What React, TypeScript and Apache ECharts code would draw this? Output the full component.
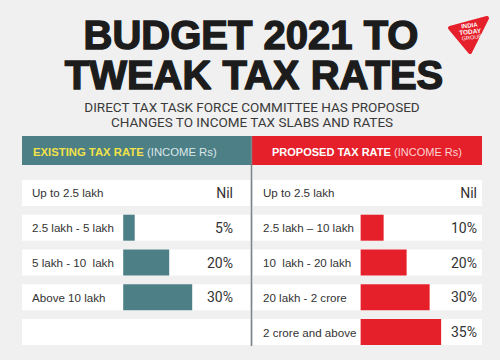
import React, { useEffect, useRef } from "react";
import * as echarts from "echarts";

const existingCats = ["Up to 2.5 lakh", "2.5 lakh - 5 lakh", "5 lakh - 10  lakh", "Above 10 lakh", ""];
const existingRates: (number | null)[] = [0, 5, 20, 30, null];
const proposedCats = ["Up to 2.5 lakh", "2.5 lakh – 10 lakh", "10  lakh - 20 lakh", "20 lakh - 2 crore", "2 crore and above"];
const proposedRates: (number | null)[] = [0, 10, 20, 30, 35];

const TEAL = "#4d7f87";
const RED = "#e6202a";
const BG = "#f0f0f0";
const TXT = "#333333";
const SANS = "'Liberation Sans', Arial, sans-serif";

const rateLabel = (v: number | null) => (v == null ? "" : v === 0 ? "Nil" : v + "%");

export default function App() {
  const ref = useRef<HTMLDivElement>(null);
  useEffect(() => {
    const chart = echarts.init(ref.current!, null, { renderer: "svg" });
    const gridTop = 175.5;
    const gridH = 174;
    const catAxis = (gridIndex: number, data: string[]) => ({
      type: "category",
      gridIndex,
      data,
      inverse: true,
      z: 10,
      axisLine: { show: false },
      axisTick: { show: false },
      splitLine: { show: false },
      axisLabel: { inside: true, margin: 10, color: TXT, fontFamily: SANS, fontSize: 11.6 },
    });
    const valLabelAxis = (gridIndex: number, data: (number | null)[], margin: number) => ({
      type: "category",
      gridIndex,
      position: "right",
      data: data.map(rateLabel),
      inverse: true,
      z: 10,
      axisLine: { show: false },
      axisTick: { show: false },
      splitLine: { show: false },
      axisLabel: { inside: true, margin, color: TXT, fontFamily: "Roboto, sans-serif", fontSize: 14 },
    });
    const valAxis = (gridIndex: number, min: number, max: number) => ({
      type: "value",
      gridIndex,
      min,
      max,
      show: false,
      splitLine: { show: false },
    });
    const center = { align: "center", verticalAlign: "middle", textAlign: "center", textVerticalAlign: "middle" };
    chart.setOption({
      animation: false,
      backgroundColor: BG,
      grid: [
        { left: 22, width: 228, top: gridTop, height: gridH },
        { left: 253, width: 229, top: gridTop, height: gridH },
      ],
      xAxis: [valAxis(0, -44, 55.13), valAxis(1, -46.8, 52.77)],
      yAxis: [
        catAxis(0, existingCats),
        valLabelAxis(0, existingRates, 17),
        catAxis(1, proposedCats),
        valLabelAxis(1, proposedRates, 5),
      ],
      series: [
        {
          type: "bar",
          xAxisIndex: 0,
          yAxisIndex: 0,
          data: existingRates,
          barWidth: 26,
          showBackground: true,
          backgroundStyle: { color: "#ffffff" },
          itemStyle: { color: TEAL },
          silent: true,
        },
        {
          type: "bar",
          xAxisIndex: 1,
          yAxisIndex: 2,
          data: proposedRates,
          barWidth: 26,
          showBackground: true,
          backgroundStyle: { color: "#ffffff" },
          itemStyle: { color: RED },
          silent: true,
        },
      ],
      graphic: [
        {
          type: "text",
          x: 251,
          y: 35,
          style: {
            text: "BUDGET 2021 TO",
            fill: "#1c1c1c",
            stroke: "#1c1c1c",
            lineWidth: 1.4,
            fontFamily: SANS,
            fontWeight: "bold",
            fontSize: 40,
            ...center,
          },
        },
        {
          type: "text",
          x: 254,
          y: 75,
          style: {
            text: "TWEAK TAX RATES",
            fill: "#1c1c1c",
            stroke: "#1c1c1c",
            lineWidth: 1.4,
            fontFamily: SANS,
            fontWeight: "bold",
            fontSize: 40,
            ...center,
          },
        },
        {
          type: "text",
          x: 252,
          y: 106.5,
          style: {
            text: "DIRECT TAX TASK FORCE COMMITTEE HAS PROPOSED",
            fill: "#3a3a3a",
            fontFamily: "Roboto, sans-serif",
            fontSize: 13.5,
            ...center,
          },
        },
        {
          type: "text",
          x: 252,
          y: 121.5,
          style: {
            text: "CHANGES TO INCOME TAX SLABS AND RATES",
            fill: "#3a3a3a",
            fontFamily: "Roboto, sans-serif",
            fontSize: 13.5,
            ...center,
          },
        },
        { type: "rect", shape: { x: 22, y: 136, width: 229, height: 29 }, style: { fill: TEAL } },
        { type: "rect", shape: { x: 251, y: 136, width: 231, height: 29 }, style: { fill: RED } },
        {
          type: "line",
          z: 20,
          shape: { x1: 251.5, y1: 136, x2: 251.5, y2: 346 },
          style: { stroke: "#7b8587", lineWidth: 1.5 },
        },
        {
          type: "text",
          x: 33,
          y: 151.5,
          z: 20,
          style: {
            text: "{a|EXISTING TAX RATE} {b|(INCOME Rs)}",
            align: "left",
            verticalAlign: "middle",
            textAlign: "left",
            textVerticalAlign: "middle",
            rich: {
              a: { fill: "#f1e24a", fontFamily: SANS, fontWeight: "bold", fontSize: 11.3 },
              b: { fill: "#dce7e9", fontFamily: SANS, fontSize: 11.3 },
            },
          },
        },
        {
          type: "text",
          x: 272,
          y: 151.5,
          z: 20,
          style: {
            text: "{a|PROPOSED TAX RATE} {b|(INCOME Rs)}",
            align: "left",
            verticalAlign: "middle",
            textAlign: "left",
            textVerticalAlign: "middle",
            rich: {
              a: { fill: "#ffffff", fontFamily: SANS, fontWeight: "bold", fontSize: 11 },
              b: { fill: "#fbd4d4", fontFamily: SANS, fontSize: 11 },
            },
          },
        },
        {
          type: "polygon",
          shape: { points: [[450, 28], [487, 18], [470, 52]] },
          style: { fill: RED, stroke: RED, lineWidth: 4, lineJoin: "round" },
        },
        {
          type: "group",
          x: 470,
          y: 31,
          rotation: 0.12,
          children: [
            {
              type: "text",
              x: 0,
              y: -5.5,
              style: { text: "INDIA", fill: "#fff", fontFamily: SANS, fontWeight: "bold", fontSize: 6, ...center },
            },
            {
              type: "text",
              x: 0,
              y: 0.5,
              style: { text: "TODAY", fill: "#fff", fontFamily: SANS, fontWeight: "bold", fontSize: 6.5, ...center },
            },
            {
              type: "text",
              x: 1,
              y: 6.5,
              style: { text: "GROUP", fill: "#fff", fontFamily: SANS, fontSize: 5.5, ...center },
            },
          ],
        },
      ],
    });
    return () => chart.dispose();
  }, []);
  return <div ref={ref} style={{ position: "fixed", left: 0, top: 0, width: 500, height: 360 }} />;
}
